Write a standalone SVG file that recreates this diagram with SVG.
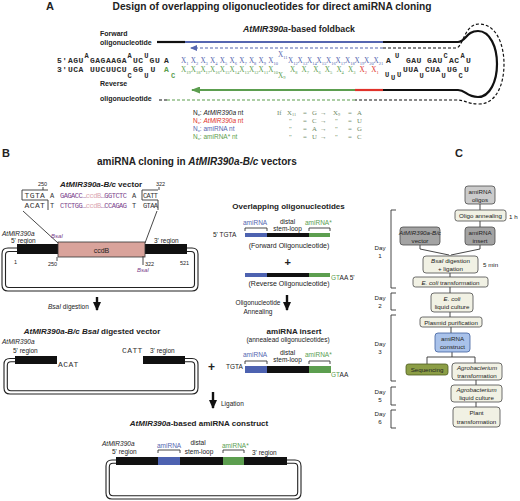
<svg xmlns="http://www.w3.org/2000/svg" width="520" height="501" viewBox="0 0 520 501">
<style>
.t{font-family:"Liberation Sans",Arial,sans-serif;fill:#222}
.b{font-weight:bold}
.i{font-style:italic}
.seq{font-family:"Liberation Mono","Courier New",monospace;font-weight:bold;font-size:8px;letter-spacing:0.5px;fill:#2a2a2a}
.sup{font-size:7px}
.bseq{font-family:"Liberation Mono","Courier New",monospace;font-size:7px;fill:#333}
.bseq8{font-family:"Liberation Mono","Courier New",monospace;font-size:8px;letter-spacing:0.4px;fill:#333}
.x{font-family:"Liberation Serif","Times New Roman",serif;font-size:7.2px}
.sb{font-size:4.5px}
.blue{fill:#5566b0}
.green{fill:#5c9e4f}
.red{fill:#e0322a}
.purple{fill:#7b3f8c}
.box{stroke:#4a4a4a;stroke-width:0.8}
.cream{fill:#f1f1e4}
.ln{fill:none;stroke:#333;stroke-width:0.9}
.dbl{fill:none;stroke:#222;stroke-width:1.1}
.sol{fill:none;stroke-width:2.2}
.dash{fill:none;stroke-width:1.2;stroke-dasharray:3,2}
.bt{font-family:"Liberation Sans",Arial,sans-serif;font-size:6.2px;fill:#222;text-anchor:middle}
</style>
<defs>
<marker id="aBlue" markerUnits="userSpaceOnUse" markerWidth="7" markerHeight="6" refX="6" refY="3" orient="auto"><path d="M0,0 L7,3 L0,6 z" fill="#5566b0"/></marker>
<marker id="aGreen" markerUnits="userSpaceOnUse" markerWidth="9" markerHeight="7" refX="8" refY="3.5" orient="auto"><path d="M0,0 L9,3.5 L0,7 z" fill="#5c9e4f"/></marker>
<marker id="aBlack" markerUnits="userSpaceOnUse" markerWidth="9" markerHeight="8" refX="8" refY="4" orient="auto"><path d="M0,0 L9,4 L0,8 z" fill="#111"/></marker>
</defs>

<!-- PANEL A -->
<g id="panelA">
<text class="t b" x="46" y="10" font-size="11">A</text>
<text class="t b" x="272" y="10" font-size="10.2" text-anchor="middle">Design of overlapping oligonucleotides for direct amiRNA cloning</text>
<text class="t b" x="299" y="32" font-size="8.8" text-anchor="middle"><tspan class="i">AtMIR390a</tspan>-based foldback</text>
<text class="t b" x="100" y="36" font-size="7">Forward</text>
<text class="t b" x="100" y="45" font-size="7">oligonucleotide</text>
<text class="t b" x="100" y="86" font-size="7">Reverse</text>
<text class="t b" x="100" y="101" font-size="7">oligonucleotide</text>
</g>

<g id="connectorsA">
<path class="sol" stroke="#111" d="M157,42 H185"/>
<path class="sol" stroke="#5566b0" d="M185,42 H383"/>
<path class="sol" stroke="#111" d="M383,42 H458 C466,42 466,31 478,31 C490,31 497,47 497,64 C497,81 490,97 478,97 C466,97 466,90 458,90 H383"/>
<path class="sol" stroke="#e0322a" d="M383,90 H355"/>
<path class="sol" stroke="#5c9e4f" d="M355,90 H192" marker-end="url(#aGreen)"/>
<path class="dash" stroke="#5566b0" d="M383,48 H191" marker-end="url(#aBlue)"/>
<path class="dash" stroke="#111" d="M383,48 H456 C463,48 464,24 479,24 C496,24 504,44 504,64 C504,85 496,104 479,104 C468,104 465,100 456,100 H355"/>
<path class="dash" stroke="#5c9e4f" d="M355,100 H167"/>
<path class="dash" stroke="#111" d="M167,100 H157"/>
</g>

<g id="sequenceA">
<text class="seq" x="57" y="63">5'</text>
<text class="seq" x="68" y="63">AGU</text>
<text class="seq sup" x="84.6" y="57.5">A</text>
<text class="seq" x="90" y="63">GAGAAGA</text>
<text class="seq sup" x="127.6" y="57.5">A</text>
<text class="seq" x="133" y="63">UC</text>
<text class="seq sup" x="144.2" y="57.5">U</text>
<text class="seq" x="149.6" y="63">GU</text>
<text class="seq" x="164" y="63">A</text>
<text class="seq" x="57" y="72">3'</text>
<text class="seq" x="68" y="72">UCA</text>
<text class="seq" x="90" y="72">UUCUUCU</text>
<text class="seq sup" x="127.6" y="77.5">C</text>
<text class="seq" x="133" y="72">GG</text>
<text class="seq sup" x="144.2" y="77.5">U</text>
<text class="seq" x="150.5" y="72">U</text>
<text class="seq" x="164" y="72" style="fill:#5c9e4f">A</text>
<text class="seq sup" x="171" y="77.5" style="fill:#5c9e4f">C</text>
<g class="x blue">
<text x="181" y="63">X<tspan class="sb" dy="1.6">1</tspan></text>
<text x="190.7" y="63">X<tspan class="sb" dy="1.6">2</tspan></text>
<text x="200.4" y="63">X<tspan class="sb" dy="1.6">3</tspan></text>
<text x="210.1" y="63">X<tspan class="sb" dy="1.6">4</tspan></text>
<text x="219.8" y="63">X<tspan class="sb" dy="1.6">5</tspan></text>
<text x="229.5" y="63">X<tspan class="sb" dy="1.6">6</tspan></text>
<text x="239.2" y="63">X<tspan class="sb" dy="1.6">7</tspan></text>
<text x="248.9" y="63">X<tspan class="sb" dy="1.6">8</tspan></text>
<text x="258.6" y="63">X<tspan class="sb" dy="1.6">9</tspan></text>
<text x="268.3" y="63">X<tspan class="sb" dy="1.6">10</tspan></text>
<text x="278" y="57">X<tspan class="sb" dy="1.6">11</tspan></text>
<text x="288" y="63">X<tspan class="sb" dy="1.6">12</tspan></text>
<text x="297.5" y="63">X<tspan class="sb" dy="1.6">13</tspan></text>
<text x="307" y="63">X<tspan class="sb" dy="1.6">14</tspan></text>
<text x="316.5" y="63">X<tspan class="sb" dy="1.6">15</tspan></text>
<text x="326" y="63">X<tspan class="sb" dy="1.6">16</tspan></text>
<text x="335.5" y="63">X<tspan class="sb" dy="1.6">17</tspan></text>
<text x="345" y="63">X<tspan class="sb" dy="1.6">18</tspan></text>
<text x="354.5" y="63">X<tspan class="sb" dy="1.6">19</tspan></text>
<text x="364" y="63">X<tspan class="sb" dy="1.6">20</tspan></text>
<text x="373.5" y="63">X<tspan class="sb" dy="1.6">21</tspan></text>
</g>
<g class="x green">
<text x="181" y="72">X<tspan class="sb" dy="1.6">19</tspan></text>
<text x="190.7" y="72">X<tspan class="sb" dy="1.6">18</tspan></text>
<text x="200.4" y="72">X<tspan class="sb" dy="1.6">17</tspan></text>
<text x="210.1" y="72">X<tspan class="sb" dy="1.6">16</tspan></text>
<text x="219.8" y="72">X<tspan class="sb" dy="1.6">15</tspan></text>
<text x="229.5" y="72">X<tspan class="sb" dy="1.6">14</tspan></text>
<text x="239.2" y="72">X<tspan class="sb" dy="1.6">13</tspan></text>
<text x="248.9" y="72">X<tspan class="sb" dy="1.6">12</tspan></text>
<text x="258.6" y="72">X<tspan class="sb" dy="1.6">11</tspan></text>
<text x="268.3" y="72">X<tspan class="sb" dy="1.6">10</tspan></text>
<text x="278" y="77.5">X<tspan class="sb" dy="1.6">9</tspan></text>
<text x="290" y="72">X<tspan class="sb" dy="1.6">8</tspan></text>
<text x="301.6" y="72">X<tspan class="sb" dy="1.6">7</tspan></text>
<text x="313.2" y="72">X<tspan class="sb" dy="1.6">6</tspan></text>
<text x="324.8" y="72">X<tspan class="sb" dy="1.6">5</tspan></text>
<text x="336.4" y="72">X<tspan class="sb" dy="1.6">4</tspan></text>
<text x="348" y="72">X<tspan class="sb" dy="1.6">3</tspan></text>
</g>
<g class="x red">
<text x="359.6" y="72">X<tspan class="sb" dy="1.6">2</tspan></text>
<text x="371.2" y="72">X<tspan class="sb" dy="1.6">1</tspan></text>
</g>
<text class="seq" x="386" y="63">A</text>
<text class="seq sup" x="395" y="57.5">U</text>
<text class="seq" x="406" y="63">GAU</text>
<text class="seq" x="427" y="63">GAU</text>
<text class="seq sup" x="443.5" y="57.5">C</text>
<text class="seq" x="449" y="63">AC</text>
<text class="seq sup" x="460.5" y="57.5">A</text>
<text class="seq" x="466" y="63">U</text>
<text class="seq sup" x="385" y="77">U</text>
<text class="seq sup" x="391" y="80">U</text>
<text class="seq sup" x="397" y="77">U</text>
<text class="seq" x="403" y="72">UUA</text>
<text class="seq sup" x="419.5" y="77.5">U</text>
<text class="seq" x="425" y="72">CUA</text>
<text class="seq sup" x="441.5" y="77.5">U</text>
<text class="seq" x="447" y="72">UG</text>
<text class="seq sup" x="458.5" y="77.5">C</text>
<text class="seq" x="464" y="72">U</text>
</g>

<g id="legendA">
<text class="t" x="193" y="115" font-size="6.5">N<tspan font-size="4.3" dy="1.3">x</tspan><tspan dy="-1.3">:  </tspan><tspan class="i">AtMIR390a</tspan> nt</text>
<text class="t" x="193" y="123" font-size="6.5" style="fill:#e0322a">N<tspan font-size="4.3" dy="1.3">x</tspan><tspan dy="-1.3">: </tspan><tspan class="i">AtMIR390a</tspan> nt</text>
<text class="t" x="193" y="131" font-size="6.5" style="fill:#5566b0">N<tspan font-size="4.3" dy="1.3">x</tspan><tspan dy="-1.3">:  amiRNA nt</tspan></text>
<text class="t" x="193" y="139" font-size="6.5" style="fill:#5c9e4f">N<tspan font-size="4.3" dy="1.3">x</tspan><tspan dy="-1.3">:  amiRNA* nt</tspan></text>
<g font-family="Liberation Serif,Times New Roman,serif" font-size="6.8" fill="#6f8a66">
<text x="277" y="115">If</text><text x="287" y="115">X<tspan font-size="4.3" dy="1.3">11</tspan></text><text x="303" y="115">=</text><text x="312" y="115">G</text><text x="320" y="115">→</text><text x="333" y="115">X<tspan font-size="4.3" dy="1.3">9</tspan></text><text x="348" y="115">=</text><text x="357" y="115">A</text>
<text x="289" y="123">"</text><text x="303" y="123">=</text><text x="312" y="123">C</text><text x="320" y="123">→</text><text x="335" y="123">"</text><text x="348" y="123">=</text><text x="357" y="123">U</text>
<text x="289" y="131">"</text><text x="303" y="131">=</text><text x="312" y="131">A</text><text x="320" y="131">→</text><text x="335" y="131">"</text><text x="348" y="131">=</text><text x="357" y="131">G</text>
<text x="289" y="139">"</text><text x="303" y="139">=</text><text x="312" y="139">U</text><text x="320" y="139">→</text><text x="335" y="139">"</text><text x="348" y="139">=</text><text x="357" y="139">C</text>
</g>
</g>

<!-- PANEL B -->
<g id="panelB">
<text class="t b" x="2" y="157" font-size="11">B</text>
<text class="t b" x="97" y="165" font-size="10">amiRNA cloning in <tspan class="i">AtMIR390a-B/c</tspan> vectors</text>
</g>

<g id="vector">
<text class="t b" x="101" y="187" font-size="8" text-anchor="middle"><tspan class="i">AtMIR390a-B/c</tspan> vector</text>
<text class="t" x="38" y="186" font-size="5.5">250</text>
<text class="t" x="156" y="186" font-size="5.5">322</text>
<path class="ln" d="M43,187 V190 M159,187 V190"/>
<path class="ln" d="M48,190 H22 V200 H48 V210"/>
<path class="ln" d="M158,190 H142 V200 H158 V210"/>
<path class="ln" d="M23,211 L58,243 M157,211 L145,243"/>
<text class="bseq8" x="24.5" y="198">TGTA</text>
<text class="bseq8" x="24.5" y="208">ACAT</text>
<text class="bseq" x="50" y="198" fill="#aaa">A</text>
<text class="bseq" x="50" y="208" fill="#aaa">T</text>
<text class="bseq" x="60" y="198" textLength="67"><tspan class="purple">GAGACC…</tspan><tspan fill="#d9a3ae">ccdB</tspan><tspan class="purple">…GGTCTC</tspan></text>
<text class="bseq" x="60" y="208" textLength="67"><tspan class="purple">CTCTGG…</tspan><tspan fill="#d9a3ae">ccdB</tspan><tspan class="purple">…CCAGAG</tspan></text>
<text class="bseq" x="132" y="198" fill="#aaa">A</text>
<text class="bseq" x="132" y="208" fill="#aaa">T</text>
<text class="bseq" x="143" y="198" textLength="15">CATT</text>
<text class="bseq" x="143" y="208" textLength="15">GTAA</text>
<path class="dbl" d="M17,248 H8 Q2,248 2,254 V285 Q2,291 8,291 H192 Q198,291 198,285 V254 Q198,248 192,248 H187"/>
<path class="dbl" d="M17,251.5 H9 Q5.5,251.5 5.5,255 V284 Q5.5,287.5 9,287.5 H191 Q194.5,287.5 194.5,284 V255 Q194.5,251.5 191,251.5 H187"/>
<rect x="17" y="244" width="41" height="10" fill="#111"/>
<rect x="145" y="244" width="42" height="10" fill="#111"/>
<rect x="58" y="242" width="87" height="15" fill="#d9a39b" stroke="#333" stroke-width="0.8"/>
<text class="t" x="101.5" y="252.5" font-size="7" text-anchor="middle">ccdB</text>
<text class="t i" x="2" y="236" font-size="6.5">AtMIR390a</text>
<text class="t" x="11" y="243" font-size="6.5">5' region</text>
<text class="t" x="154" y="243" font-size="6.5">3' region</text>
<text class="t i purple" x="51" y="238" font-size="6">BsaI</text>
<text class="t" x="14" y="264" font-size="5.5">1</text>
<text class="t" x="48" y="266" font-size="5.5">250</text>
<path class="ln" d="M57,257 V261"/>
<path class="ln" d="M143,256 V265"/>
<text class="t" x="145" y="266" font-size="5.5">322</text>
<text class="t" x="180" y="265" font-size="5.5">521</text>
<text class="t i purple" x="137" y="272" font-size="6">BsaI</text>
</g>

<g id="digestArrow">
<path d="M97,297 V310" stroke="#111" stroke-width="2.4" marker-end="url(#aBlack)"/>
<text class="t" x="48" y="309" font-size="6.5"><tspan class="i">BsaI</tspan> digestion</text>
</g>

<g id="digested">
<text class="t b" x="92" y="334" font-size="8" text-anchor="middle"><tspan class="i">AtMIR390a-B/c BsaI</tspan> digested vector</text>
<text class="t i" x="2" y="344" font-size="6.5">AtMIR390a</text>
<text class="t" x="13" y="353" font-size="6.5">5' region</text>
<text class="t" x="150" y="353" font-size="6.5">3' region</text>
<path class="dbl" d="M15,358.5 H10 Q4,358.5 4,364.5 V388 Q4,394 10,394 H192 Q198,394 198,388 V364.5 Q198,358.5 192,358.5 H185"/>
<path class="dbl" d="M15,361.8 H11 Q7.3,361.8 7.3,365.5 V387 Q7.3,390.7 11,390.7 H191 Q194.7,390.7 194.7,387 V365.5 Q194.7,361.8 191,361.8 H185"/>
<rect x="15" y="356" width="42" height="8" fill="#111"/>
<rect x="143" y="356" width="42" height="8" fill="#111"/>
<text class="bseq8" x="58" y="367">ACAT</text>
<text class="bseq8" x="122" y="353">CATT</text>
<text class="t b" x="208" y="371" font-size="12">+</text>
</g>

<g id="oligos">
<text class="t b" x="288.5" y="209" font-size="8" text-anchor="middle">Overlapping oligonucleotides</text>
<text class="t blue" x="243" y="225" font-size="6.5">amiRNA</text>
<text class="t" x="287.5" y="224" font-size="6.5" text-anchor="middle">distal</text>
<text class="t" x="287.5" y="230.5" font-size="6.5" text-anchor="middle">stem-loop</text>
<text class="t green" x="305" y="225" font-size="6.5">amiRNA*</text>
<path class="ln" stroke="#5566b0" d="M245,231 V228 H267 V231"/>
<path class="ln" stroke="#5c9e4f" d="M309,231 V228 H330 V231"/>
<text class="t" x="213" y="237" font-size="6.5">5' TGTA</text>
<rect x="245" y="233" width="22" height="4" fill="#4d62b0"/>
<rect x="267" y="233" width="42" height="4" fill="#111"/>
<rect x="309" y="233" width="21" height="4" fill="#5c9e4f"/>
<text class="t" x="289" y="247.5" font-size="7" text-anchor="middle">(Forward Oligonucleotide)</text>
<text class="t b" x="284.5" y="266" font-size="11">+</text>
<rect x="245" y="273" width="22" height="4" fill="#4d62b0"/>
<rect x="267" y="273" width="42" height="4" fill="#111"/>
<rect x="309" y="273" width="21" height="4" fill="#5c9e4f"/>
<text class="t" x="331" y="280" font-size="6.5"><tspan class="green">GT</tspan>AA 5'</text>
<text class="t" x="289" y="286" font-size="7" text-anchor="middle">(Reverse Oligonucleotide)</text>
</g>

<g id="annealArrow">
<path d="M287,295 V310" stroke="#111" stroke-width="2.4" marker-end="url(#aBlack)"/>
<text class="t" x="258" y="305" font-size="6.5" text-anchor="middle">Oligonucleotide</text>
<text class="t" x="258" y="313.5" font-size="6.5" text-anchor="middle">Annealing</text>
</g>

<g id="insert">
<text class="t b" x="294" y="334" font-size="8" text-anchor="middle">amiRNA insert</text>
<text class="t" x="288" y="342" font-size="6.5" text-anchor="middle">(annealead oligonucleotides)</text>
<text class="t blue" x="243" y="356.5" font-size="6.5">amiRNA</text>
<text class="t" x="287.5" y="355" font-size="6.5" text-anchor="middle">distal</text>
<text class="t" x="287.5" y="362" font-size="6.5" text-anchor="middle">stem-loop</text>
<text class="t green" x="305" y="356.5" font-size="6.5">amiRNA*</text>
<path class="ln" stroke="#5566b0" d="M245,364 V361 H267 V364"/>
<path class="ln" stroke="#5c9e4f" d="M309,364 V361 H330 V364"/>
<text class="t" x="226" y="369" font-size="6.5">TGTA</text>
<rect x="245" y="366" width="22" height="7" fill="#4d62b0"/>
<rect x="267" y="366" width="42" height="7" fill="#111"/>
<rect x="309" y="366" width="22" height="7" fill="#5c9e4f"/>
<text class="t" x="331" y="377" font-size="6.5"><tspan class="green">GT</tspan>AA</text>
</g>

<g id="ligationArrow">
<path d="M213,392 V408" stroke="#111" stroke-width="2.4" marker-end="url(#aBlack)"/>
<text class="t" x="221" y="405.5" font-size="6.5">Ligation</text>
</g>

<g id="construct">
<text class="t b" x="199" y="426" font-size="8" text-anchor="middle"><tspan class="i">AtMIR390a</tspan>-based amiRNA construct</text>
<text class="t i" x="102" y="446" font-size="6.5">AtMIR390a</text>
<text class="t" x="112" y="454" font-size="6.5">5' region</text>
<text class="t blue" x="157" y="447.5" font-size="6.5">amiRNA</text>
<text class="t" x="198" y="445" font-size="6.5" text-anchor="middle">distal</text>
<text class="t" x="199" y="454" font-size="6.5" text-anchor="middle">stem-loop</text>
<text class="t green" x="222" y="447.5" font-size="6.5">amiRNA*</text>
<text class="t" x="252" y="455" font-size="6.5">3' region</text>
<path class="ln" stroke="#5566b0" d="M158,453 V450 H180 V453"/>
<path class="ln" stroke="#5c9e4f" d="M223,453 V450 H244 V453"/>
<path class="dbl" d="M116,460 H112 Q106,460 106,466 V493 Q106,499 112,499 H295 Q301,499 301,493 V466 Q301,460 295,460 H287"/>
<path class="dbl" d="M116,463.3 H113 Q109.3,463.3 109.3,467 V492 Q109.3,495.7 113,495.7 H294 Q297.7,495.7 297.7,492 V467 Q297.7,463.3 294,463.3 H287"/>
<rect x="116" y="457" width="171" height="8" fill="#111"/>
<rect x="158" y="457" width="22" height="8" fill="#4d62b0"/>
<rect x="223" y="457" width="21" height="8" fill="#5c9e4f"/>
</g>

<!-- PANEL C -->
<g id="panelC">
<text class="t b" x="455" y="157" font-size="11">C</text>
</g>

<g id="flowConnectors" class="ln">
<path d="M480,204 V210 M480,221 V227"/>
<path d="M420,245 V249 L449,255 M480,245 V249 L451,255 M450,255 V256"/>
<path d="M450,273 V277 M450,287 V293 M450,312 V317 M451,327 V333"/>
<path d="M452,352 V357 M427,357 H475 M427,357 V364 M475,357 V363"/>
<path d="M476,380 V385 M476,402 V407"/>
</g>

<g id="n-oligos"><rect class="box" x="465" y="186" width="30" height="18" rx="3" fill="#cbcbcb"/><text class="bt" x="480" y="193.5">amiRNA</text><text class="bt" x="480" y="201.5">oligos</text></g>
<g id="n-anneal"><rect class="box cream" x="455" y="210" width="51" height="11" rx="2.5"/><text class="bt" x="480.5" y="218">Oligo annealing</text><text class="t" x="509" y="218.5" font-size="6.2">1 h</text></g>
<g id="n-vector"><rect class="box" x="400" y="227" width="40" height="18" rx="3" fill="#a3a3a3"/><text class="bt i" x="420" y="234.5" font-size="5.6">AtMIR390a-B/c</text><text class="bt" x="420" y="242.5">vector</text></g>
<g id="n-insert"><rect class="box" x="465" y="227" width="30" height="18" rx="3" fill="#a3a3a3"/><text class="bt" x="480" y="234.5">amiRNA</text><text class="bt" x="480" y="242.5">insert</text></g>
<g id="n-digest"><rect class="box cream" x="423" y="256" width="55" height="17" rx="3"/><text class="bt" x="450.5" y="263"><tspan class="i">BsaI</tspan> digestion</text><text class="bt" x="450.5" y="271">+ ligation</text><text class="t" x="483" y="267" font-size="6.2">5 min</text></g>
<g id="n-transf"><rect class="box cream" x="413" y="277" width="75" height="10" rx="2.5"/><text class="bt" x="450.5" y="284.5"><tspan class="i">E. coli</tspan> transformation</text></g>
<g id="n-culture"><rect class="box cream" x="431" y="293" width="42" height="19" rx="3"/><text class="bt i" x="452" y="301">E. coli</text><text class="bt" x="452" y="309">liquid culture</text></g>
<g id="n-plasmid"><rect class="box cream" x="420" y="317" width="62" height="10" rx="2.5"/><text class="bt" x="451" y="324.5">Plasmid purification</text></g>
<g id="n-construct"><rect x="435" y="333" width="35" height="19" rx="3" fill="#a9c2ea" stroke="#3f5f9f" stroke-width="0.8"/><text class="bt" x="452.5" y="341">amiRNA</text><text class="bt" x="452.5" y="349">construct</text></g>
<g id="n-seq"><rect x="406" y="364" width="42" height="11" rx="2.5" fill="#8c9e46" stroke="#4b5a1e" stroke-width="0.8"/><text class="bt" x="427" y="372">Sequencing</text></g>
<g id="n-agro"><rect class="box cream" x="452" y="363" width="50" height="17" rx="3"/><text class="bt i" x="477" y="370">Agrobacterium</text><text class="bt" x="477" y="378">transformation</text></g>
<g id="n-agroculture"><rect class="box cream" x="451" y="385" width="51" height="17" rx="3"/><text class="bt i" x="476.5" y="392">Agrobacterium</text><text class="bt" x="476.5" y="400">liquid culture</text></g>
<g id="n-plant"><rect class="box cream" x="453" y="407" width="47" height="20" rx="3"/><text class="bt" x="476.5" y="415">Plant</text><text class="bt" x="476.5" y="424">transformation</text></g>

<g id="days">
<path class="ln" d="M396,210 H391 V288 H396 M396,293 H391 V310 H396 M396,315 H391 V381 H396 M396,387 H391 V405 H396 M396,410 H391 V428 H396"/>
<text class="bt" x="380" y="250">Day</text><text class="bt" x="380" y="258">1</text>
<text class="bt" x="380" y="300">Day</text><text class="bt" x="380" y="308">2</text>
<text class="bt" x="380" y="346">Day</text><text class="bt" x="380" y="354">3</text>
<text class="bt" x="380" y="394">Day</text><text class="bt" x="380" y="402">5</text>
<text class="bt" x="380" y="416">Day</text><text class="bt" x="380" y="424">6</text>
</g>
</svg>
